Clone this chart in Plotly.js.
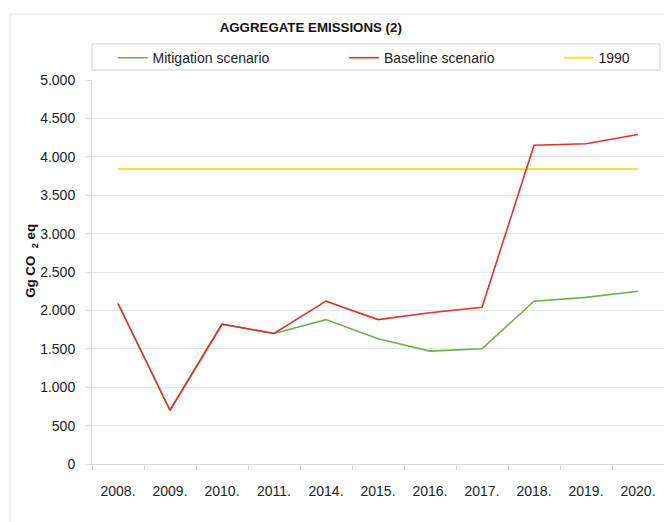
<!DOCTYPE html>
<html>
<head>
<meta charset="utf-8">
<script src="https://cdn.plot.ly/plotly-3.0.1.min.js"></script>
<style>
  html, body { margin: 0; padding: 0; background: #ffffff; }
  #chart { width: 664px; height: 522px; }
</style>
</head>
<body>
<div id="chart"></div>
<script>
var categories = ['2008.', '2009.', '2010.', '2011.', '2014.', '2015.', '2016.', '2017.', '2018.', '2019.', '2020.'];
var mitigation = [2090, 700, 1820, 1700, 1880, 1630, 1470, 1500, 2120, 2170, 2250];
var baseline = [2090, 700, 1820, 1700, 2120, 1880, 1970, 2040, 4150, 4170, 4290];
var level1990 = [3840, 3840, 3840, 3840, 3840, 3840, 3840, 3840, 3840, 3840, 3840];
var yTicks = [0, 500, 1000, 1500, 2000, 2500, 3000, 3500, 4000, 4500, 5000];

var FONT = 'Liberation Sans, Arial, sans-serif';

var traces = [
  {
    x: categories, y: level1990, name: '1990', type: 'scatter', mode: 'lines',
    line: { color: '#f0e62e', width: 2 }, legend: 'legend3'
  },
  {
    x: categories, y: mitigation, name: 'Mitigation scenario', type: 'scatter', mode: 'lines',
    line: { color: '#6cb24a', width: 1.6 }, legend: 'legend'
  },
  {
    x: categories, y: baseline, name: 'Baseline scenario', type: 'scatter', mode: 'lines',
    line: { color: '#e0322c', width: 1.6 }, legend: 'legend2'
  }
];

var legendBase = {
  orientation: 'h', yanchor: 'middle', y: 1.057, xanchor: 'left',
  bgcolor: 'rgba(0,0,0,0)', borderwidth: 0,
  font: { family: FONT, size: 14, color: '#222222' }
};

var layout = {
  width: 664, height: 522,
  margin: { l: 92, r: 0, t: 80, b: 58 },
  paper_bgcolor: '#ffffff', plot_bgcolor: '#ffffff',
  separators: ',.',
  font: { family: FONT, size: 14, color: '#222222' },
  showlegend: true,
  title: {
    text: '<b>AGGREGATE EMISSIONS (2)</b>',
    font: { family: FONT, size: 13.3, color: '#111111' },
    x: 0.468, xref: 'container', xanchor: 'center',
    y: 0.948, yref: 'container', yanchor: 'middle'
  },
  legend: Object.assign({}, legendBase, { x: 0.036 }),
  legend2: Object.assign({}, legendBase, { x: 0.4405 }),
  legend3: Object.assign({}, legendBase, { x: 0.8155 }),
  xaxis: {
    type: 'category',
    categoryorder: 'array', categoryarray: categories,
    range: [-0.5, 10.5],
    showgrid: false, zeroline: false,
    showline: true, linecolor: '#d9d9d9', linewidth: 1,
    ticks: 'outside', ticklen: 5, tickcolor: '#d0d0d0', tickson: 'boundaries',
    ticklabelstandoff: 14,
    tickfont: { family: FONT, size: 14, color: '#222222' },
    fixedrange: true
  },
  yaxis: {
    range: [0, 5000],
    tickmode: 'array', tickvals: yTicks,
    tickformat: ',d',
    showgrid: true, gridcolor: '#e6e6e6', gridwidth: 1,
    zeroline: false,
    showline: true, linecolor: '#d9d9d9', linewidth: 1,
    ticks: 'outside', ticklen: 5, tickcolor: '#d9d9d9',
    ticklabelstandoff: 8,
    tickfont: { family: FONT, size: 14, color: '#222222' },
    title: {
      text: '&nbsp;&nbsp;&nbsp;&nbsp;&nbsp;&nbsp;<b>Gg CO &nbsp;<sub>2</sub> eq</b>',
      font: { family: FONT, size: 13.3, color: '#111111' },
      standoff: 0
    },
    fixedrange: true
  },
  shapes: [
    {
      type: 'rect', xref: 'paper', yref: 'paper',
      x0: -0.1434, x1: 1.05, y0: -0.25, y1: 1.1719,
      line: { color: '#e2e2e2', width: 1 }, fillcolor: 'rgba(0,0,0,0)', layer: 'below'
    },
    {
      type: 'rect', xref: 'paper', yref: 'paper',
      x0: 0, x1: 0.993, y0: 1.026, y1: 1.094,
      line: { color: '#cfcfcf', width: 1 }, fillcolor: 'rgba(0,0,0,0)', layer: 'below'
    }
  ]
};

Plotly.newPlot('chart', traces, layout, { displayModeBar: false, staticPlot: true });
</script>
</body>
</html>
